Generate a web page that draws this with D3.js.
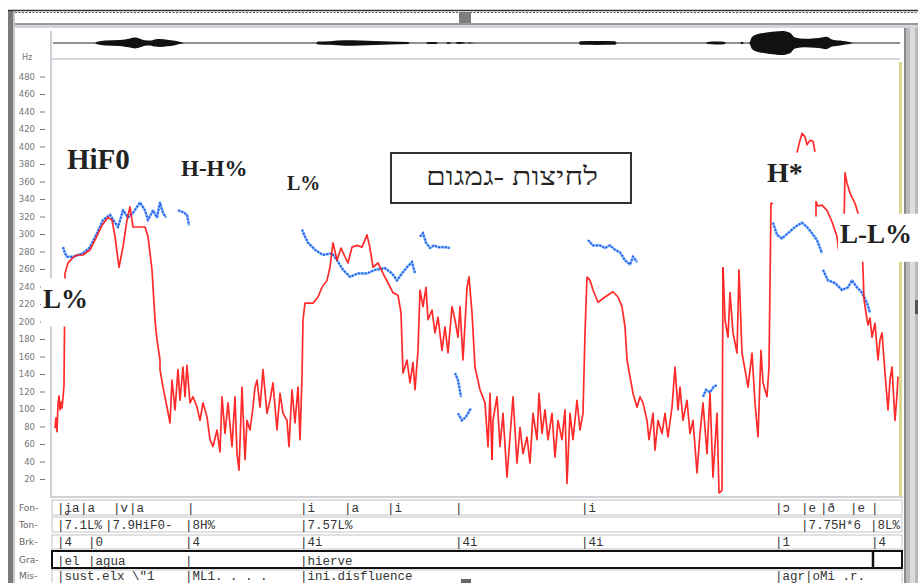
<!DOCTYPE html>
<html><head><meta charset="utf-8">
<script src="https://cdn.jsdelivr.net/npm/d3@7"></script>
<style>body{margin:0;background:#fff}svg{display:block}</style>
</head><body><svg id="c" width="918" height="583"></svg>
<script>
// ---------- DATA (time in s, pitch in Hz) ----------
const yTicks = [20,40,60,80,100,120,140,160,180,200,220,240,260,280,300,320,340,360,380,400,420,440,460,480];

const redA = [[.03,78],[.04,90],[.05,74],[.06,105],[.07,115],[.08,99],[.09,108],[.10,101],[.11,113],[.12,127],[.125,190],[.13,255],[.16,267],[.21,273],[.25,276],[.31,276],[.38,282],[.43,293],[.50,310],[.56,319],[.60,316],[.63,297],[.67,262],[.71,285],[.75,316],[.78,331],[.81,308],[.88,308],[.93,308],[.96,297],[1.00,259],[1.03,202],[1.05,179],[1.08,156]];
const redB = [[1.08,156],[1.08,145],[1.11,125],[1.15,102],[1.18,84],[1.20,133],[1.23,99],[1.26,145],[1.28,110],[1.31,148],[1.33,114],[1.35,150],[1.38,107],[1.41,114],[1.45,102],[1.48,87],[1.51,107],[1.55,91],[1.58,65],[1.61,57],[1.65,76],[1.68,51],[1.70,114],[1.73,72],[1.76,107],[1.80,57],[1.83,114],[1.85,49],[1.87,30],[1.90,125],[1.93,42],[1.95,87],[1.98,76],[2.01,102],[2.03,125],[2.05,133],[2.08,102],[2.11,145],[2.15,95],[2.18,110],[2.21,130],[2.25,76],[2.28,118],[2.31,95],[2.35,87],[2.37,57],[2.40,122],[2.43,84],[2.46,125],[2.48,65],[2.50,137],[2.51,202]];
const redC = [[2.51,202],[2.53,221],[2.61,221],[2.66,228],[2.70,239],[2.75,247],[2.78,262],[2.81,290],[2.85,270],[2.89,284],[2.93,274],[2.96,267],[3.00,285],[3.05,287],[3.10,285],[3.15,299],[3.18,284],[3.21,262],[3.26,267],[3.31,255],[3.36,244],[3.41,233],[3.46,230],[3.49,210],[3.51,141],[3.55,156],[3.58,130],[3.61,153],[3.63,122],[3.66,167],[3.68,236],[3.71,217],[3.74,239],[3.76,202],[3.80,213],[3.83,187],[3.86,205],[3.90,167],[3.93,194],[3.96,164],[4.00,217],[4.03,202],[4.06,182],[4.08,217],[4.11,156],[4.15,239],[4.17,251],[4.20,210],[4.23,148],[4.28,122],[4.33,107],[4.36,57],[4.38,118],[4.40,42]];
const redD = [[4.40,42],[4.41,87],[4.45,114],[4.48,57],[4.51,95],[4.55,22],[4.58,68],[4.61,114],[4.65,38],[4.68,79],[4.71,49],[4.75,68],[4.78,38],[4.81,95],[4.85,65],[4.87,118],[4.90,72],[4.93,99],[4.96,65],[5.00,95],[5.03,45],[5.06,87],[5.10,65],[5.13,99],[5.15,15],[5.18,95],[5.21,65],[5.25,110],[5.28,76],[5.31,95],[5.33,187],[5.35,251]];
const redE = [[5.35,251],[5.38,247],[5.41,236],[5.46,222],[5.53,228],[5.61,234],[5.66,228],[5.70,217],[5.73,194],[5.75,156],[5.78,137],[5.81,118],[5.85,102],[5.88,114],[5.91,107],[5.95,87],[5.97,65],[6.01,95],[6.03,53],[6.06,87],[6.10,72],[6.13,95],[6.16,68],[6.20,102],[6.23,148],[6.26,99],[6.28,125],[6.31,87],[6.35,110],[6.38,72],[6.41,87],[6.45,27],[6.48,72],[6.51,107],[6.55,49],[6.58,118],[6.61,22],[6.65,95],[6.67,4],[6.70,7],[6.71,262]];
const redF = [[6.71,262],[6.73,202],[6.76,182],[6.78,233],[6.81,187],[6.85,164],[6.87,259],[6.90,164],[6.93,145],[6.96,125],[7.00,164],[7.03,107],[7.06,68],[7.09,167],[7.11,130],[7.15,114],[7.17,148],[7.19,335],[7.21,335]];
const redG = [[7.45,393],[7.48,407],[7.50,415],[7.53,411],[7.55,402],[7.58,407],[7.61,406],[7.63,394]];
const redH = [[7.64,320],[7.64,337],[7.66,332],[7.70,333],[7.75,327],[7.80,314],[7.85,297],[7.87,278],[7.88,268]];
const redI = [[7.92,312],[7.93,370],[7.95,358],[7.98,347],[8.00,342],[8.03,335],[8.06,324],[8.10,293],[8.11,259],[8.12,225],[8.14,210],[8.16,196],[8.18,204],[8.20,182],[8.23,198],[8.26,156],[8.28,179],[8.30,187],[8.33,141],[8.36,99],[8.38,133],[8.40,148],[8.43,87],[8.45,116],[8.46,137]];
const redSegments = [redA, redB, redC, redD, redE, redF, redG, redH, redI];

const blueA = [[.11,285],[.13,278],[.15,274],[.21,274],[.26,276],[.31,278],[.38,285],[.45,301],[.51,316],[.58,322],[.63,313],[.66,308],[.71,327],[.76,319],[.81,324],[.88,336],[.93,327],[.96,316],[1.01,327],[1.05,319],[1.08,336],[1.11,324],[1.14,319]];
const blueB = [[1.26,327],[1.31,325],[1.35,322],[1.37,310]];
const blueC = [[2.50,305],[2.53,297],[2.56,290],[2.63,282],[2.71,276],[2.80,278],[2.85,270],[2.91,259],[2.98,251],[3.06,255],[3.15,255],[3.23,259],[3.33,261],[3.40,255],[3.45,247],[3.50,255],[3.55,262],[3.60,268],[3.63,255]];
const blueD = [[3.68,297],[3.71,301],[3.74,290],[3.78,284],[3.82,287],[3.86,285],[3.93,285],[3.98,284]];
const blueE = [[4.03,141],[4.06,133],[4.09,114]];
const blueF = [[4.06,95],[4.10,87],[4.14,91],[4.19,101]];
const blueG = [[5.36,293],[5.41,287],[5.48,287],[5.53,284],[5.58,287],[5.63,282],[5.68,279],[5.73,270],[5.78,265],[5.81,274],[5.85,268]];
const blueH = [[6.51,114],[6.54,122],[6.58,119],[6.62,126],[6.65,127]];
const blueI = [[7.21,313],[7.25,299],[7.30,295],[7.36,301],[7.43,308],[7.50,313],[7.55,308],[7.60,301],[7.65,293],[7.70,278]];
const blueJ = [[7.71,259],[7.76,247],[7.83,244],[7.90,236],[7.96,239],[8.00,247],[8.05,239],[8.10,233],[8.15,221],[8.18,210]];
const blueSegments = [blueA, blueB, blueC, blueD, blueE, blueF, blueG, blueH, blueI, blueJ];

// waveform envelope [time, relative amplitude]
const waveEnv = [[.01,0],[.43,0],[.45,.1],[.53,.2],[.68,.25],[.78,.38],[.83,.45],[.88,.35],[.93,.22],[.98,.2],[1.03,.3],[1.08,.33],[1.15,.28],[1.23,.18],[1.30,.05],[1.33,0],
 [2.64,0],[2.66,.12],[2.78,.15],[2.93,.22],[3.08,.2],[3.23,.17],[3.38,.12],[3.56,.08],[3.58,0],[3.74,0],[3.76,.08],[3.84,.08],[3.86,0],[3.94,0],[3.96,.08],[4.00,0],[4.03,0],[4.06,.08],[4.12,.05],[4.14,0],[4.18,.05],[4.22,0],
 [5.27,0],[5.28,.15],[5.45,.16],[5.63,.15],[5.65,0],[6.54,0],[6.56,.08],[6.64,.12],[6.72,.1],[6.74,0],[6.88,0],[6.90,.1],[6.92,0],[6.97,0],[7.00,.5],[7.06,.75],[7.13,.85],[7.23,.95],[7.30,1.0],[7.38,.85],[7.43,.45],[7.53,.35],[7.63,.4],[7.70,.45],[7.74,.52],[7.80,.3],[7.88,.2],[7.99,.05],[8.01,0],[8.48,0]];

// tiers
const fonTimes  = [.05,.28,.61,.77,1.35,2.48,2.92,3.35,4.03,5.29,7.23,7.49,7.68,7.98,8.19];
const fonLabels = ["ʝa","a","v","a","","i","a","i","","i","ɔ","e","ð","e",""];
const tonTimes  = [.05,.53,1.33,2.48,7.49,8.18];
const tonLabels = ["7.1L%","7.9HiF0-","8H%","7.57L%","7.75H*6","8L%"];
const brkTimes  = [.05,.36,1.33,2.48,4.03,5.29,7.23,8.19];
const brkLabels = ["4","0","4","4i","4i","4i","1","4"];
const graTimes  = [.05,.36,1.33,2.48];
const graLabels = ["el","agua","","hierve"];
const graThick  = [8.21];
const misTimes  = [.05,1.33,2.48,7.23];
const misLabels = ["sust.elx \\\"1","ML1. . . .","ini.disfluence","agr|oMi .r."];

// annotations
const annoText = ["HiF0","H-H%","L%","L%","H*","L-L%"];
const annoTime = [.15,1.29,2.35,-.09,7.15,7.88];
const annoHz   = [374,366,350,216,360,290];
const annoSize = [29,23,20,27,28,27];
const hebrewLabel = "לחיצות -גמגום";

// ---------- DRAWING ----------
const svg = d3.select("#c");
const x = d3.scaleLinear().domain([0, 8.5]).range([52, 902]);
const y = d3.scaleLinear().domain([0, 500]).range([496.5, 59]);
const line = d3.line().x(d => x(d[0])).y(d => y(d[1]));

// window chrome
svg.append("rect").attr("x",0).attr("y",0).attr("width",918).attr("height",583).attr("fill","#fff");
svg.append("rect").attr("x",8).attr("y",10).attr("width",5).attr("height",573).attr("fill","#7a7a7a");
svg.append("rect").attr("x",13).attr("y",10).attr("width",2).attr("height",573).attr("fill","#c8c8c8");
svg.append("line").attr("x1",8).attr("x2",918).attr("y1",10.5).attr("y2",10.5).attr("stroke","#333").attr("stroke-width",1.5);
svg.append("line").attr("x1",15).attr("x2",918).attr("y1",12.5).attr("y2",12.5).attr("stroke","#555").attr("stroke-width",1).attr("stroke-dasharray","2,1.5");
svg.append("rect").attr("x",15).attr("y",23).attr("width",903).attr("height",2).attr("fill","#999");
svg.append("rect").attr("x",15).attr("y",25).attr("width",903).attr("height",3).attr("fill","#d4d4dc");
svg.append("rect").attr("x",459).attr("y",12).attr("width",12).attr("height",11).attr("fill","#7d7d7d");
// right scrollbar
svg.append("rect").attr("x",904).attr("y",28).attr("width",14).attr("height",555).attr("fill","#b9b9b9");
svg.append("rect").attr("x",904).attr("y",28).attr("width",2).attr("height",555).attr("fill","#8a8a8a");
svg.append("rect").attr("x",910).attr("y",28).attr("width",5).attr("height",555).attr("fill","#dcdcdc");
svg.append("rect").attr("x",899).attr("y",62).attr("width",3).attr("height",435).attr("fill","#d9d98e");
svg.append("rect").attr("x",915).attr("y",300).attr("width",3).attr("height",14).attr("fill","#555");

// panel borders
svg.append("rect").attr("x",50).attr("y",31).attr("width",2).attr("height",466).attr("fill","#d0d0d8");
svg.append("rect").attr("x",52).attr("y",58).attr("width",848).attr("height",2).attr("fill","#d6d6de");
svg.append("rect").attr("x",50).attr("y",496).attr("width",853).attr("height",2).attr("fill","#d0d0d8");

// waveform
const yW = d3.scaleLinear().domain([-1, 1]).range([55, 31]);
svg.append("line").attr("x1",x(0.01)).attr("x2",x(8.48)).attr("y1",yW(0)).attr("y2",yW(0)).attr("stroke","#222").attr("stroke-width",1);
svg.append("path").datum(waveEnv)
  .attr("d", d3.area().x(d => x(d[0])).y0(d => yW(-d[1])).y1(d => yW(d[1])).curve(d3.curveMonotoneX))
  .attr("fill","#111");

// y axis
svg.append("text").attr("x",22).attr("y",60).text("Hz").attr("font-family","DejaVu Sans").attr("font-size",8).attr("fill","#777");
const ax = svg.append("g").attr("transform","translate(45,0)")
  .call(d3.axisLeft(y).tickValues(yTicks).tickSize(5).tickPadding(5));
ax.select(".domain").remove();
ax.selectAll(".tick line").attr("stroke","#777");
ax.selectAll(".tick text").attr("font-family","DejaVu Sans").attr("font-size",8.5).attr("fill","#777");

// pitch curves
const g = svg.append("g");
blueSegments.forEach(s => {
  g.append("path").datum(s).attr("d", line).attr("fill","none")
    .attr("stroke","#8cc6ff").attr("stroke-width",2.6).attr("stroke-linejoin","round");
  g.append("path").datum(s).attr("d", line).attr("fill","none")
    .attr("stroke","#2f5fe8").attr("stroke-width",2).attr("stroke-dasharray","2,1.4");
});
redSegments.forEach(s => {
  g.append("path").datum(s).attr("d", line).attr("fill","none")
    .attr("stroke","#ff1414").attr("stroke-width",1.7).attr("stroke-opacity",0.9).attr("stroke-linejoin","round");
});

// annotations
const anno = svg.append("g").attr("font-family","Liberation Serif, DejaVu Serif, serif").attr("font-weight","bold").attr("fill","#222");
annoText.forEach((t, i) => {
  const tx = x(annoTime[i]), ty = y(annoHz[i]);
  const el = anno.append("text").attr("x", tx).attr("y", ty).attr("font-size", annoSize[i]).text(t);
  if (i === 3 || i === 5) {
    const bb = el.node().getBBox();
    const w = i === 5 ? 918 - bb.x + 2 : bb.width + 4;
    anno.insert("rect", () => el.node()).attr("x", bb.x - 2).attr("y", bb.y - 5).attr("width", w).attr("height", bb.height + 18).attr("fill","#fff");
  }
});
// hebrew box
svg.append("rect").attr("x",391).attr("y",153).attr("width",240).attr("height",50).attr("fill","#fff").attr("stroke","#333").attr("stroke-width",2);
svg.append("text").attr("x",512).attr("y",185).attr("text-anchor","middle")
  .attr("font-family","Liberation Serif, DejaVu Serif, serif").attr("font-size",25).attr("fill","#222")
  .attr("textLength",172).attr("lengthAdjust","spacingAndGlyphs").text(hebrewLabel);

// tiers
const tiers = [
  {name:"Fon-", y0:500, y1:515, t:fonTimes, l:fonLabels},
  {name:"Ton-", y0:517, y1:532, t:tonTimes, l:tonLabels},
  {name:"Brk-", y0:535, y1:549, t:brkTimes, l:brkLabels},
  {name:"Gra-", y0:551, y1:568, t:graTimes, l:graLabels, bold:true},
  {name:"Mis-", y0:570, y1:590, t:misTimes, l:misLabels}
];
tiers.forEach(tr => {
  svg.append("rect").attr("x",52).attr("y",tr.y0).attr("width",850).attr("height",tr.y1-tr.y0)
    .attr("fill","#fff").attr("stroke", tr.bold ? "#111" : "#c4c4c4").attr("stroke-width", tr.bold ? 2 : 1);
  const mid = tr.name === "Mis-" ? 576 : (tr.y0+tr.y1)/2;
  svg.append("text").attr("x",19).attr("y",mid+3).text(tr.name)
    .attr("font-family","DejaVu Sans").attr("font-size",9).attr("fill","#666");
  const base = tr.name === "Mis-" ? 580 : tr.y1 - 3.5;
  tr.t.forEach((t, i) => {
    svg.append("text").attr("x", x(t)).attr("y", base)
      .attr("font-family","Liberation Mono, DejaVu Sans Mono, monospace").attr("font-size",12.5).attr("fill","#333")
      .text("|" + tr.l[i]);
  });
});
graThick.forEach(t => {
  svg.append("line").attr("x1",x(t)).attr("x2",x(t)).attr("y1",551).attr("y2",568).attr("stroke","#111").attr("stroke-width",2.5);
});
svg.append("rect").attr("x",461).attr("y",579).attr("width",10).attr("height",4).attr("fill","#666");
</script></body></html>
